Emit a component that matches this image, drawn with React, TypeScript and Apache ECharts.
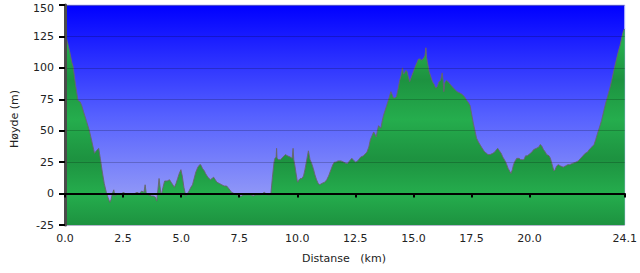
import React, { useEffect, useRef } from 'react';
import * as echarts from 'echarts';

const distanceKm = [
  0.0, 0.1, 0.2, 0.3, 0.35, 0.45, 0.56, 0.65, 0.72, 0.8, 0.92, 1.05, 1.15, 1.27, 1.35, 1.45, 1.52, 1.6, 1.69, 1.78,
  1.85, 1.93, 1.98, 2.04, 2.1, 2.15, 2.2, 2.3, 2.4, 2.5, 2.6, 2.7, 2.8, 2.9, 3.0, 3.1, 3.2, 3.3, 3.4, 3.45,
  3.5, 3.6, 3.73, 3.8, 3.9, 3.95, 4.0, 4.05, 4.12, 4.15, 4.22, 4.29, 4.4, 4.5, 4.57, 4.64, 4.71, 4.78, 4.85, 4.92,
  4.99, 5.05, 5.12, 5.2, 5.27, 5.34, 5.42, 5.49, 5.56, 5.63, 5.72, 5.8, 5.84, 5.92, 6.0, 6.05, 6.15, 6.26, 6.33, 6.4,
  6.47, 6.54, 6.65, 6.75, 6.85, 6.96, 7.05, 7.17, 7.28, 7.38, 7.5, 7.6, 7.7, 7.8, 7.9, 8.0, 8.1, 8.2, 8.3, 8.4,
  8.5, 8.58, 8.65, 8.72, 8.8, 8.86, 8.93, 9.0, 9.04, 9.09, 9.11, 9.13, 9.2, 9.28, 9.38, 9.49, 9.58, 9.7, 9.78, 9.82,
  9.85, 9.9, 9.94, 10.0, 10.02, 10.08, 10.13, 10.2, 10.27, 10.33, 10.38, 10.44, 10.48, 10.52, 10.55, 10.62, 10.69, 10.76, 10.83, 10.9,
  10.97, 11.05, 11.18, 11.27, 11.35, 11.45, 11.53, 11.6, 11.67, 11.75, 11.88, 12.0, 12.1, 12.17, 12.25, 12.35, 12.45, 12.52, 12.6, 12.73,
  12.85, 13.0, 13.08, 13.15, 13.22, 13.29, 13.35, 13.4, 13.45, 13.5, 13.55, 13.6, 13.65, 13.71, 13.78, 13.85, 13.95, 14.03, 14.08, 14.14,
  14.2, 14.27, 14.35, 14.41, 14.47, 14.53, 14.57, 14.62, 14.68, 14.73, 14.78, 14.84, 14.9, 14.94, 15.0, 15.08, 15.15, 15.22, 15.3, 15.36,
  15.45, 15.5, 15.54, 15.57, 15.6, 15.68, 15.75, 15.82, 15.89, 15.96, 16.03, 16.1, 16.17, 16.24, 16.28, 16.31, 16.35, 16.41, 16.5, 16.58,
  16.67, 16.78, 16.88, 17.0, 17.09, 17.2, 17.3, 17.38, 17.44, 17.5, 17.58, 17.65, 17.72, 17.8, 17.93, 18.0, 18.07, 18.15, 18.21, 18.3,
  18.42, 18.5, 18.58, 18.63, 18.7, 18.78, 18.85, 18.92, 19.0, 19.08, 19.14, 19.2, 19.26, 19.31, 19.38, 19.45, 19.55, 19.62, 19.7, 19.76,
  19.83, 19.9, 19.97, 20.1, 20.18, 20.3, 20.4, 20.46, 20.52, 20.6, 20.68, 20.74, 20.84, 20.9, 20.96, 21.05, 21.1, 21.17, 21.24, 21.33,
  21.45, 21.55, 21.65, 21.73, 21.85, 22.0, 22.1, 22.2, 22.3, 22.4, 22.5, 22.57, 22.68, 22.78, 22.85, 22.93, 23.0, 23.1, 23.2, 23.28,
  23.37, 23.46, 23.55, 23.63, 23.72, 23.81, 23.9, 23.98, 24.05, 24.1,
];

const elevationM = [
  127, 121, 113, 104, 101, 87, 74, 73, 70, 65, 58, 50, 42, 32, 34, 36, 28, 18, 8, 1,
  -3, -7, -5, 0, 3, -2, -1, 0, -1, 1, 0, -1, 0, -1, 0, 1, 0, 2, 1, 7,
  0, -1, -2, -2, -3, -6, 3, 12, 1, -1, 5, 10, 10, 11, 9, 7, 5, 8, 12, 16,
  19, 14, 5, -2, 0, 2, 5, 7, 12, 17, 21, 23, 23, 20, 18, 16, 13, 11, 12, 13,
  11, 9, 8, 7, 6, 6, 4, 1, 0, -1, -2, -2, -1, -1, -1, -1, -2, -1, -1, -1,
  0, 1, 0, -1, -1, -1, 13, 25, 28, 29, 36, 28, 27, 27, 29, 31, 30, 29, 28, 36,
  27, 22, 17, 10, 9, 11, 12, 12, 14, 19, 24, 30, 34, 30, 27, 24, 20, 15, 11, 8,
  7, 8, 9, 11, 14, 19, 23, 25, 25, 26, 26, 25, 24, 24, 26, 28, 26, 25, 26, 29,
  30, 33, 37, 43, 46, 49, 47, 45, 50, 54, 53, 52, 57, 62, 66, 70, 76, 81, 79, 76,
  76, 77, 84, 90, 94, 100, 95, 96, 98, 97, 93, 89, 92, 94, 97, 101, 104, 107, 107, 106,
  108, 110, 116, 108, 105, 97, 93, 89, 87, 84, 85, 89, 90, 96, 90, 81, 88, 90, 89, 87,
  85, 83, 81, 80, 79, 77, 74, 72, 70, 64, 56, 50, 44, 41, 37, 35, 33, 32, 31, 31,
  32, 33, 35, 36, 34, 32, 29, 27, 24, 20, 18, 16, 19, 23, 26, 28, 28, 27, 27, 27,
  30, 30, 31, 33, 35, 36, 37, 39, 38, 35, 33, 31, 30, 28, 24, 18, 19, 22, 23, 22,
  21, 22, 23, 23, 24, 25, 26, 28, 30, 32, 33, 35, 37, 39, 43, 48, 52, 58, 66, 72,
  78, 84, 91, 98, 105, 112, 118, 125, 130, 131,
];

const xTickValues = [0, 2.5, 5, 7.5, 10, 12.5, 15, 17.5, 20, 24.1];
const yMin = -25;
const yMax = 150;
const yStep = 25;

export default function App() {
  const ref = useRef<HTMLDivElement>(null);

  useEffect(() => {
    document.body.style.margin = '0';
    const chart = echarts.init(ref.current as HTMLDivElement, null, { renderer: 'svg' });
    const data = distanceKm.map((d, i) => [d, elevationM[i]]);
    const font = 'DejaVu Sans, Verdana, sans-serif';

    chart.setOption({
      animation: false,
      textStyle: { fontFamily: font },
      grid: {
        left: 65,
        right: 4,
        top: 5,
        bottom: 48,
        show: true,
        borderColor: '#c4c6ff',
        borderWidth: 1,
        backgroundColor: {
          type: 'linear', x: 0, y: 0, x2: 0, y2: 1,
          colorStops: [
            { offset: 0, color: '#0000ff' },
            { offset: 0.5, color: '#5560ff' },
            { offset: 1, color: '#a6acf4' },
          ],
        },
      },
      xAxis: {
        type: 'value',
        min: 0,
        max: 24.1,
        z: 5,
        axisLine: { lineStyle: { color: '#000', width: 2 } },
        axisTick: { customValues: xTickValues, length: 4, lineStyle: { color: '#000', width: 2 } },
        axisLabel: {
          customValues: xTickValues,
          formatter: (v: number) => v.toFixed(1),
          color: '#222',
          fontSize: 11,
          fontFamily: font,
          margin: 8,
        },
        splitLine: { show: false },
      },
      yAxis: {
        type: 'value',
        min: yMin,
        max: yMax,
        interval: yStep,
        z: 5,
        axisLine: { show: true, lineStyle: { color: '#4a4a4a', width: 3 } },
        axisTick: { show: true, length: 6, lineStyle: { color: '#000', width: 2 } },
        splitLine: { show: true, lineStyle: { color: 'rgba(0,0,0,0.2)', width: 1 } },
        axisLabel: {
          color: '#222',
          fontSize: 11,
          fontFamily: font,
          margin: 11,
          formatter: (v: number) => (v === yMax ? '{t|' + v + '}' : String(v)),
          rich: { t: { padding: [6, 0, 0, 0], color: '#222', fontSize: 11, fontFamily: font } },
        },
      },
      series: [
        {
          type: 'line',
          data,
          symbol: 'none',
          z: 2,
          lineStyle: { color: 'rgba(105,100,110,0.9)', width: 1 },
          areaStyle: {
            origin: 'start',
            opacity: 1,
            color: {
              type: 'linear', x: 0, y: 5, x2: 0, y2: 225, global: true,
              colorStops: [
                { offset: 0.0, color: '#1f9c45' },
                { offset: 0.18, color: '#25ad4d' },
                { offset: 0.34, color: '#1d9240' },
                { offset: 0.52, color: '#25ad4d' },
                { offset: 0.7, color: '#1d9240' },
                { offset: 0.86, color: '#25ad4d' },
                { offset: 1.0, color: '#1d9240' },
              ],
            },
          },
        },
      ],
      graphic: [
        {
          type: 'text',
          left: 302,
          top: 253,
          style: { text: 'Distanse   (km)', font: '11px ' + font, fill: '#222' },
        },
        {
          type: 'text',
          x: 9,
          y: 148,
          rotation: Math.PI / 2,
          style: { text: 'Høyde (m)', font: '11px ' + font, fill: '#222' },
        },
      ],
    });

    return () => chart.dispose();
  }, []);

  return <div ref={ref} style={{ width: 640, height: 273 }} />;
}
